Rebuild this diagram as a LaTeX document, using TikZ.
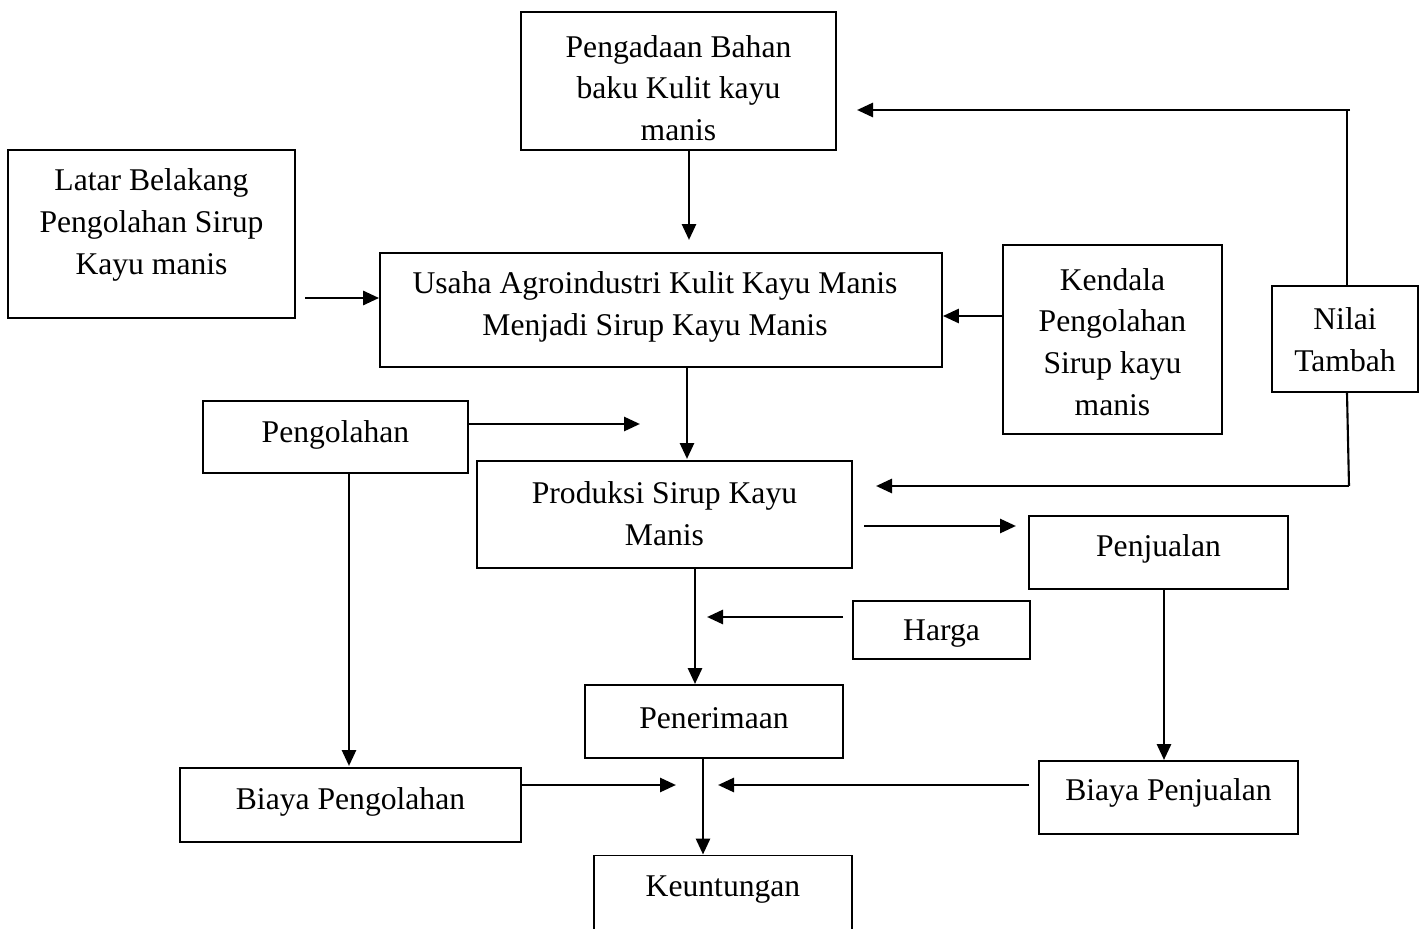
\documentclass[tikz,border=0pt]{standalone}
\usepackage{fontspec}
\setmainfont{Liberation Serif}
\usetikzlibrary{arrows.meta}
\begin{document}
\begin{tikzpicture}[x=0.02cm,y=-0.02cm,
 box/.style={draw,line width=1.1pt,inner sep=0pt},
 txt/.style={align=center,font=\fontsize{18}{23.8}\selectfont,inner sep=0pt},
 arr/.style={line width=1.6pt,-{Triangle[length=0.32cm,width=0.28cm]}},
 ln/.style={line width=1.2pt}]
\useasboundingbox (0,0) rectangle (1424,929);
% boxes
\node[box,minimum width=6.30cm,minimum height=2.76cm] (peng) at (678.5,81) {};
\node[box,minimum width=5.74cm,minimum height=3.36cm] (latar) at (151.5,234) {};
\node[box,minimum width=11.24cm,minimum height=2.28cm] (usaha) at (661,310) {};
\node[box,minimum width=4.38cm,minimum height=3.78cm] (kendala) at (1112.5,339.5) {};
\node[box,minimum width=2.92cm,minimum height=2.12cm] (nilai) at (1345,339) {};
\node[box,minimum width=5.30cm,minimum height=1.44cm] (pengol) at (335.5,437) {};
\node[box,minimum width=7.50cm,minimum height=2.14cm] (prod) at (664.5,514.5) {};
\node[box,minimum width=5.18cm,minimum height=1.46cm] (penj) at (1158.5,552.5) {};
\node[box,minimum width=3.54cm,minimum height=1.16cm] (harga) at (941.5,630) {};
\node[box,minimum width=5.16cm,minimum height=1.46cm] (pener) at (714,721.5) {};
\node[box,minimum width=6.82cm,minimum height=1.48cm] (bpeng) at (350.5,805) {};
\node[box,minimum width=5.18cm,minimum height=1.46cm] (bpenj) at (1168.5,797.5) {};
\node[box,minimum width=5.16cm,minimum height=1.90cm] (keun) at (723,903) {};
% texts
\node[txt] (peng-t) at (678.5,88) {Pengadaan Bahan\\baku Kulit kayu\\manis};
\node[txt] (latar-t) at (151.5,225) {Latar Belakang\\Pengolahan Sirup\\Kayu manis};
\node[txt] (usaha-t) at (655,307) {Usaha Agroindustri Kulit Kayu Manis\\Menjadi Sirup Kayu Manis};
\node[txt] (kendala-t) at (1112.5,342) {Kendala\\Pengolahan\\Sirup kayu\\manis};
\node[txt] (nilai-t) at (1345,340) {Nilai\\Tambah};
\node[txt] (pengol-t) at (335.5,435) {Pengolahan};
\node[txt] (prod-t) at (664.5,514) {Produksi Sirup Kayu\\Manis};
\node[txt] (penj-t) at (1158.5,549) {Penjualan};
\node[txt] (harga-t) at (941.5,634) {Harga};
\node[txt] (pener-t) at (714,718) {Penerimaan};
\node[txt] (bpeng-t) at (350.5,802) {Biaya Pengolahan};
\node[txt] (bpenj-t) at (1168.5,793) {Biaya Penjualan};
\node[txt] (keun-t) at (723,890) {Keuntungan};
% free ends
\coordinate (c1) at (689,240);
\coordinate (c2) at (305,298);
\coordinate (c3) at (1350,110);
\coordinate (c4) at (857,110);
\coordinate (c5) at (1349,486);
\coordinate (c6) at (876,486);
\coordinate (c7) at (687,459);
\coordinate (c8) at (640,424);
\coordinate (c9) at (864,526);
\coordinate (c10) at (1016,526);
\coordinate (c11) at (843,617);
\coordinate (c12) at (707,617);
\coordinate (c13) at (676,785);
\coordinate (c14) at (1029,785);
\coordinate (c15) at (718,785);
\coordinate (c16) at (349,766);
% connectors
\draw[arr] (peng.south -| c1) -- (c1);
\draw[arr] (c2) -- (c2 -| usaha.west);
\draw[arr] (kendala.west |- 0,316) -- (usaha.east |- 0,316);
\draw[ln] (nilai.north -| 1347,0) -- (1347,110);
\draw[arr] (c3) -- (c4);
\draw[ln] (nilai.south -| 1347,0) -- (c5);
\draw[arr] (c5) -- (c6);
\draw[arr] (usaha.south -| c7) -- (c7);
\draw[arr] (pengol.east |- c8) -- (c8);
\draw[arr] (pengol.south -| c16) -- (c16);
\draw[arr] (c9) -- (c10);
\draw[arr] (prod.south -| 695,0) -- (pener.north -| 695,0);
\draw[arr] (c11) -- (c12);
\draw[arr] (penj.south -| 1164,0) -- (bpenj.north -| 1164,0);
\draw[arr] (bpeng.east |- c13) -- (c13);
\draw[arr] (c14) -- (c15);
\draw[arr] (pener.south -| 703,0) -- (keun.north -| 703,0);
\end{tikzpicture}
\end{document}
